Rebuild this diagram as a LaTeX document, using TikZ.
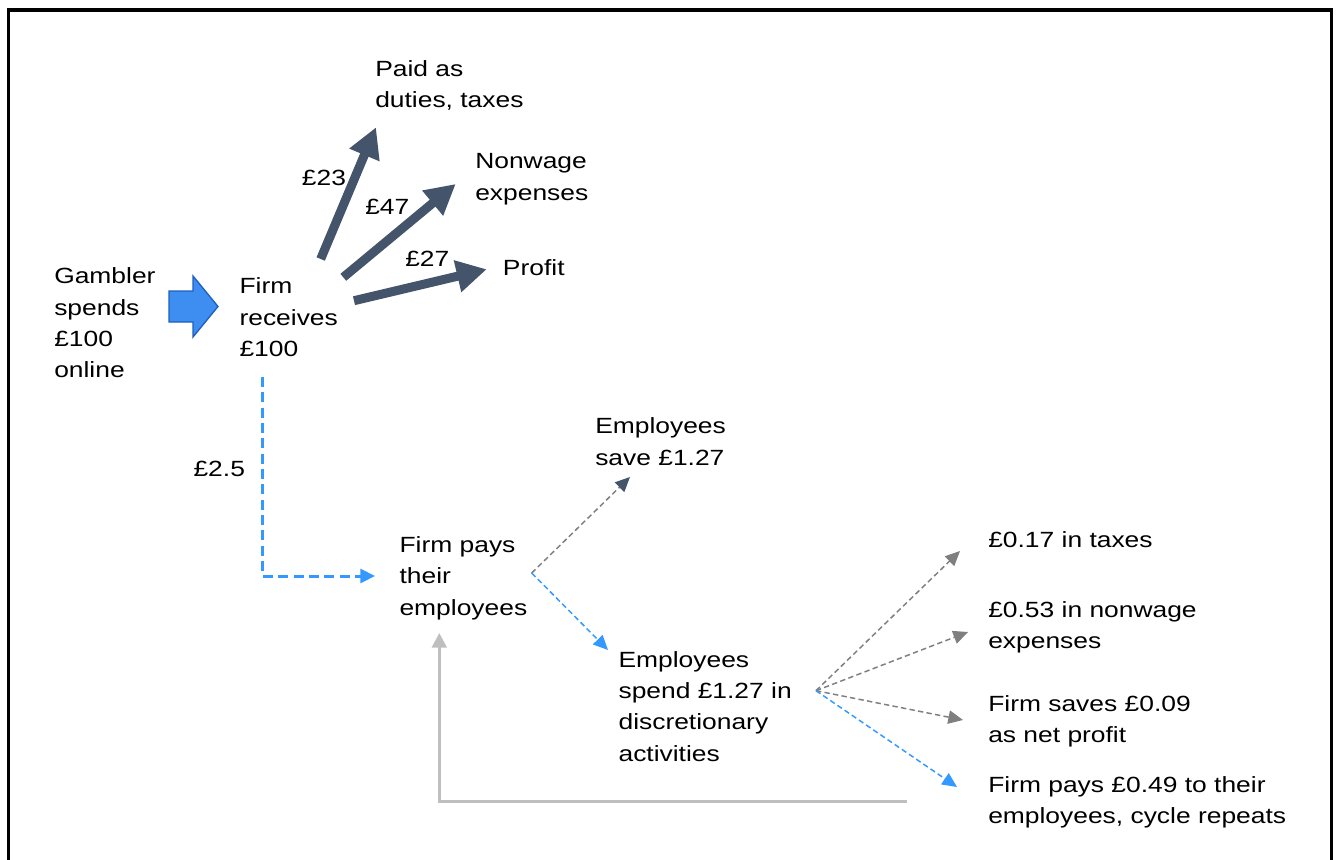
\documentclass[tikz,border=0pt]{standalone}
\usepackage{fontspec}
\setmainfont[FakeStretch=1.2]{Liberation Sans}
\usetikzlibrary{arrows.meta}
\definecolor{slate}{HTML}{44546A}
\definecolor{blueln}{HTML}{3399FF}
\definecolor{grayln}{HTML}{7F7F7F}
\definecolor{lightln}{HTML}{BFBFBF}
\definecolor{blockfill}{HTML}{3D8EF0}
\definecolor{blockdraw}{HTML}{1F5FC0}
\begin{document}
\begin{tikzpicture}[x=0.75pt,y=-0.75pt,
  txt/.style={anchor=north west, inner sep=0pt, align=left, font=\fontsize{16.5}{23.6}\selectfont},
  thickarrow/.style={draw=slate, line width=6.75pt, -{Triangle[length=22.5pt,width=23pt]}},
  bluedash/.style={draw=blueln, line width=2.25pt, dash pattern=on 7.5pt off 4pt, -{Triangle[length=11pt,width=10.5pt]}},
  thindash/.style={draw=grayln, line width=1.1pt, dash pattern=on 4pt off 2.5pt, -{Triangle[length=11pt,width=10pt]}},
  thinblue/.style={draw=blueln, line width=1.1pt, dash pattern=on 4pt off 2.5pt, -{Triangle[length=11pt,width=10pt]}},
  returnline/.style={draw=lightln, line width=2.25pt, -{Triangle[length=11pt,width=11pt]}}
]
\useasboundingbox (0,0) rectangle (1339,860);
\fill[white] (0,0) rectangle (1339,860);
\draw[line width=2.6pt] (8.5,860) -- (8.5,10) -- (1331.5,10) -- (1331.5,860);

% block arrow
\draw[fill=blockfill, draw=blockdraw, line width=1pt]
  (169,291) -- (193,291) -- (193,276) -- (218,306.5) -- (193,337) -- (193,322) -- (169,322) -- cycle;

% texts
\node[txt] (gambler) at (54,261.3) {\strut Gambler\\spends\\£100\\online};
\node[txt] (firm) at (239.3,271.3) {\strut Firm\\receives\\£100};
\node[txt] (paid) at (375,54) {\strut Paid as\\duties, taxes};
\node[txt] (nonwage) at (475,146.3) {\strut Nonwage\\expenses};
\node[txt] (profit) at (502.7,253) {\strut Profit};
\node[txt] (l23) at (301.7,163.7) {\strut £23};
\node[txt] (l47) at (365,192) {\strut £47};
\node[txt] (l27) at (405,244.7) {\strut £27};
\node[txt] (l25) at (193.3,454.7) {\strut £2.5};
\node[txt] (fpays) at (399.3,530) {\strut Firm pays\\their\\employees};
\node[txt] (esave) at (595,411.3) {\strut Employees\\save £1.27};
\node[txt] (espend) at (618.3,644.7) {\strut Employees\\spend £1.27 in\\discretionary\\activities};
\node[txt] (tax) at (988,525) {\strut £0.17 in taxes};
\node[txt] (nw) at (988,595) {\strut £0.53 in nonwage\\expenses};
\node[txt] (fsaves) at (988,689) {\strut Firm saves £0.09\\as net profit};
\node[txt] (fpays2) at (988,769.7) {\strut Firm pays £0.49 to their\\employees, cycle repeats};

% coordinates
\coordinate (a1s) at (320.7,259);   \coordinate (a1e) at (376,127.3);
\coordinate (a2s) at (343.3,277.3); \coordinate (a2e) at (455.7,184);
\coordinate (a3s) at (354,300.7);   \coordinate (a3e) at (486.7,269.3);
\coordinate (bds) at (262.7,377);   \coordinate (bdc) at (262.7,576); \coordinate (bde) at (375,576);
\coordinate (fpo) at (531.7,573);
\coordinate (fpe1) at (630,477);    \coordinate (fpe2) at (608,650);
\coordinate (spo) at (816,690.7);
\coordinate (sp1) at (960,551);     \coordinate (sp2) at (968,632);
\coordinate (sp3) at (963,720);     \coordinate (sp4) at (957,787);
\coordinate (rs) at (906.7,801);    \coordinate (rc) at (439.3,801); \coordinate (re) at (439.3,633);

% connectors
\draw[thickarrow] (a1s) -- (a1e);
\draw[thickarrow] (a2s) -- (a2e);
\draw[thickarrow] (a3s) -- (a3e);
\draw[bluedash] (bds) -- (bdc) -- (bde);
\draw[thindash, -{Triangle[length=11pt,width=10pt,color=slate]}] (fpo) -- (fpe1);
\draw[thinblue] (fpo) -- (fpe2);
\draw[thindash] (spo) -- (sp1);
\draw[thindash] (spo) -- (sp2);
\draw[thindash] (spo) -- (sp3);
\draw[thinblue] (spo) -- (sp4);
\draw[returnline] (rs) -- (rc) -- (re);
\end{tikzpicture}
\end{document}
